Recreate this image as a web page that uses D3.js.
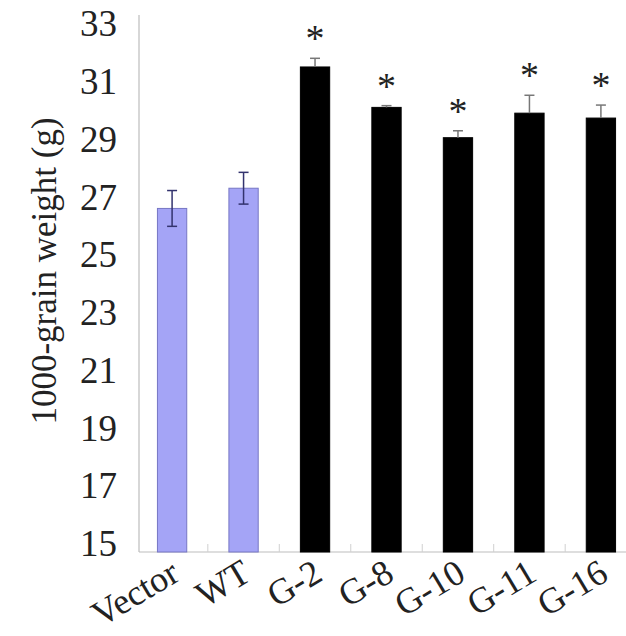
<!DOCTYPE html>
<html><head><meta charset="utf-8">
<script src="https://cdn.jsdelivr.net/npm/d3@7"></script>
<style>html,body{margin:0;padding:0;background:#fff;}</style>
</head><body>
<svg id="chart" width="626" height="636"></svg>
<script>
const categories = ["Vector", "WT", "G-2", "G-8", "G-10", "G-11", "G-16"];
const values = [26.9, 27.6, 31.8, 30.4, 29.35, 30.2, 30.03];
const errors = [0.62, 0.55, 0.3, 0.06, 0.24, 0.62, 0.45];
const significant = [false, false, true, true, true, true, true];
const groups = ["control", "control", "line", "line", "line", "line", "line"];
const yTicks = [15, 17, 19, 21, 23, 25, 27, 29, 31, 33];

const svg = d3.select("#chart");
const font = "Liberation Serif";
const x = d3.scaleBand().domain(categories).range([136, 637]).paddingInner(0.59).paddingOuter(0.3);
const y = d3.scaleLinear().domain([15, 33.6]).range([552, 15]);

svg.append("line").attr("x1", 139).attr("x2", 139).attr("y1", y(33.6)).attr("y2", y(15))
  .attr("stroke", "#bdbdbd").attr("stroke-width", 1.2);
svg.append("line").attr("x1", 139).attr("x2", 626).attr("y1", y(15)).attr("y2", y(15))
  .attr("stroke", "#bdbdbd").attr("stroke-width", 1.2);
categories.slice(1).forEach((c, i) => {
  const xx = (x(categories[i]) + x.bandwidth() + x(c)) / 2;
  svg.append("line").attr("x1", xx).attr("x2", xx).attr("y1", y(15)).attr("y2", y(15) - 8)
    .attr("stroke", "#d0d0d0").attr("stroke-width", 1);
});

svg.append("g").selectAll("text").data(yTicks).join("text")
  .attr("x", 117).attr("y", d => y(d) + 4)
  .attr("text-anchor", "end")
  .style("font-family", font).attr("font-size", 37).attr("fill", "#222")
  .text(d => d);

svg.append("text")
  .attr("transform", "translate(56,271) rotate(-90)")
  .attr("text-anchor", "middle")
  .style("font-family", font).attr("font-size", 35).attr("fill", "#222")
  .text("1000-grain weight (g)");

const data = categories.map((c, i) => ({c, v: values[i], e: errors[i], s: significant[i], g: groups[i]}));

svg.append("g").selectAll("rect").data(data).join("rect")
  .attr("x", d => x(d.c)).attr("width", x.bandwidth())
  .attr("y", d => y(d.v)).attr("height", d => y(15) - y(d.v))
  .attr("fill", d => d.g === "control" ? "#a4a4f6" : "#000")
  .attr("stroke", d => d.g === "control" ? "#7676c4" : "#000").attr("stroke-width", 1);

const eg = svg.append("g");
data.forEach(d => {
  const cx = x(d.c) + x.bandwidth() / 2;
  const col = d.g === "control" ? "#33336e" : "#777";
  const lo = d.g === "control" ? d.v - d.e : d.v;
  eg.append("line").attr("x1", cx).attr("x2", cx).attr("y1", y(d.v + d.e)).attr("y2", y(lo))
    .attr("stroke", col).attr("stroke-width", 1.5);
  eg.append("line").attr("x1", cx - 5).attr("x2", cx + 5).attr("y1", y(d.v + d.e)).attr("y2", y(d.v + d.e))
    .attr("stroke", col).attr("stroke-width", 1.5);
  if (d.g === "control") {
    eg.append("line").attr("x1", cx - 5).attr("x2", cx + 5).attr("y1", y(d.v - d.e)).attr("y2", y(d.v - d.e))
      .attr("stroke", col).attr("stroke-width", 1.5);
  }
});

svg.append("g").selectAll("text").data(data.filter(d => d.s)).join("text")
  .attr("x", d => x(d.c) + x.bandwidth() / 2)
  .attr("y", d => y(d.v + d.e) - 7)
  .attr("text-anchor", "middle")
  .style("font-family", font).attr("font-size", 38).attr("fill", "#222")
  .text("*");

svg.append("g").selectAll("text").data(categories).join("text")
  .attr("transform", c => `translate(${x(c) + x.bandwidth() / 2 - 4},557) rotate(-31)`)
  .attr("text-anchor", "end").attr("dy", "0.72em")
  .style("font-family", font).attr("font-size", 36).attr("fill", "#222")
  .text(c => c);
</script>
</body></html>
